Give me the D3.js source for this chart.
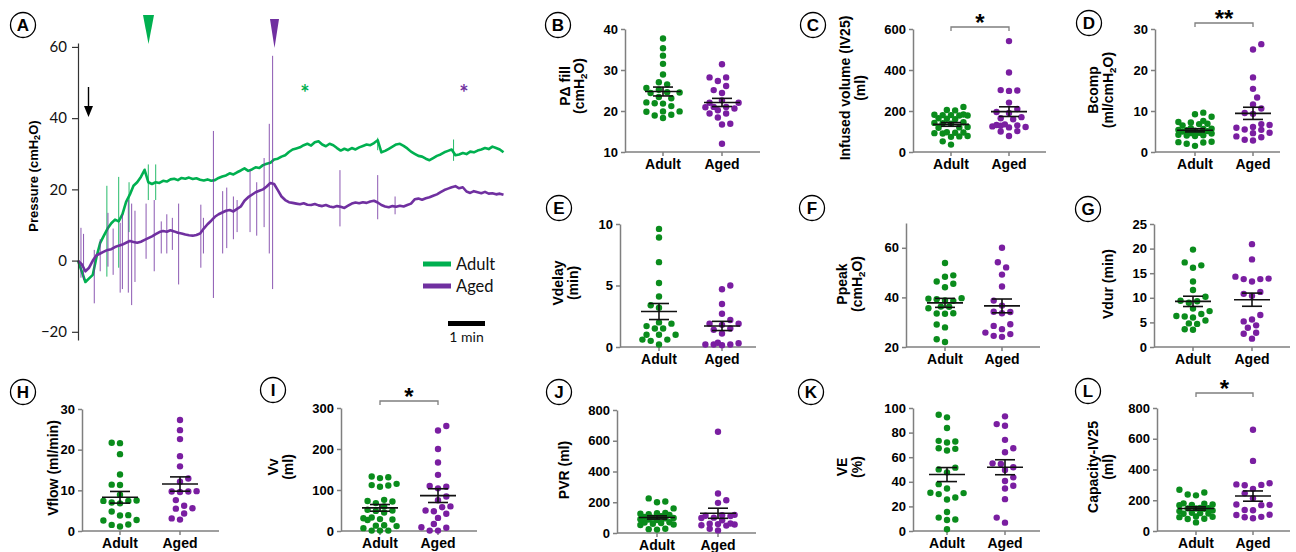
<!DOCTYPE html>
<html lang="en">
<head>
<meta charset="UTF-8">
<title>Adult vs Aged cystometry</title>
<script src="https://d3js.org/d3.v7.min.js"></script>
<style>
  body { margin: 0; background: #fff; }
  svg text { font-family: "Liberation Sans", Arial, sans-serif; }
  .trace text { font-family: Lato, "Liberation Sans", sans-serif; }
</style>
</head>
<body>
<div id="fig"></div>
<script>
// ---------- data ----------
const groups = ["Adult", "Aged"];

// panel A: pressure traces, one sample every 0.1 min (cmH2O)
const sampleStep = 0.1;
const adultTrace = [
  0, -3, -6, -5, -4, 1, 5, 7, 9, 10.5,
  11.5, 11, 13, 16.5, 18.5, 21, 22, 23.5, 25.5, 22,
  21.5, 22, 21.8, 22.4, 22.2, 22.8, 23, 22.6, 23.2, 23,
  23.3, 22.9, 23.1, 22.7, 22.5, 22.8, 22.4, 22.6, 23.2, 23.6,
  23.9, 24.5, 24.2, 24.8, 25.3, 25.9, 25.2, 25.6, 26.2, 26,
  26.8, 27.2, 27.5, 28.4, 28.6, 29.2, 29.6, 30.5, 31.2, 31.5,
  31.8, 32.4, 32.8, 32.3, 33.2, 33.5, 32.6, 32.1, 32.8, 32.4,
  31.6, 30.9, 31.4, 31, 31.6, 31.2, 31.8, 32.2, 32.6, 32.4,
  33, 33.8, 30.4, 30.8, 31.4, 32, 32.6, 32.8, 32.2, 31.5,
  30.6, 30, 29.4, 29.2, 28.6, 28.2, 28.8, 29.4, 29.8, 30.4,
  30.8, 31.2, 29.6, 29.8, 30.2, 29.9, 30.6, 30.4, 30.9, 31.2,
  31.6, 31.3, 32, 31.6, 31.2, 30.4
];
const agedTrace = [
  0, -1, -3, -2, 0, 1.5, 2, 2.5, 3, 3.2,
  3.8, 4.2, 4.5, 5, 5.5, 5.2, 5, 5.3, 5.8, 6.3,
  6.8, 7.4, 8, 8.3, 8.1, 8.5, 8.2, 7.8, 7.6, 7.3,
  7.1, 7, 7.2, 7.6, 9, 10.2, 11.2, 12.3, 13, 13.5,
  14, 14.2, 13.8, 14.5, 15.2, 16.8, 17.8, 18.5, 19.2, 19.6,
  20, 20.8, 21.8, 21.5, 19.8, 18, 17, 16.4, 16.2, 16,
  15.8, 16.1, 15.7, 15.6, 15.9, 15.5, 15.3, 15.6, 15.2, 15,
  15.3, 15.1, 14.8, 15.4, 16, 16.3, 16.1, 16.4, 16.2, 16.6,
  16.8, 16.3, 15.6, 15.2, 15, 15.3, 15.1, 15.4, 15.2, 15.6,
  16, 17.2, 17.4, 17.1, 17.5, 17.8, 18.2, 18.6, 19.2, 19.8,
  20.2, 20.6, 20.9, 20.3, 20.6, 19.4, 19, 19.5, 19.2, 18.9,
  19.3, 18.8, 18.9, 18.6, 18.8, 18.5
];
// artefact spikes: [time (min), low, high]
const adultSpikes = [[0.78, -4.5, 21], [1.1, -2, 23.5], [1.38, 8, 22], [1.9, 17, 27], [2.1, 17, 27], [8.1, 31, 34.5], [10.15, 28, 34]];
const agedSpikes = [
  [0.08, -4.8, 9.2], [0.15, -5.4, 7.5], [0.44, -12, 3], [0.6, -3, 6], [0.81, -1.7, 13.4], [0.95, -4, 9],
  [1.14, -9, 10.6], [1.2, -8, 13], [1.36, -9, 17], [1.45, -12.5, 16], [1.54, -6, 14], [1.84, 0.5, 16],
  [2.06, -3, 17], [2.25, 2, 11], [2.4, 2, 13], [2.55, 3, 12], [2.72, -6.7, 16], [3.32, -2, 15.7],
  [3.39, 2, 12], [3.66, -10.5, 36.4], [3.91, 2, 19.5], [4.02, 3.5, 20.5], [4.2, 6, 18], [4.3, 8, 17],
  [4.65, 8, 25.4], [4.83, 7, 22], [5.03, 9.4, 28.8], [5.17, 2, 38.4], [5.26, -8, 57.5],
  [7.08, 9.6, 25.4], [8.1, 11.6, 24], [8.57, 13, 18]
];
const pressureTicks = [60, 40, 20, 0, -20];

// scatter panels B-L
const pfillAdult = [37.7, 35.3, 33.5, 31.5, 28.9, 27.0, 26.5, 25.6, 25.2, 24.6, 24.5, 24.4, 23.4, 23.1, 22.1, 21.9, 21.8, 21.2, 19.9, 19.9, 19.8, 19.1, 18.9, 18.3];
const pfillAged = [31.4, 28.2, 28.2, 27.3, 26.1, 25.1, 24.4, 22.6, 22.0, 22.0, 21.0, 21.0, 20.9, 20.6, 20.2, 19.4, 19.4, 18.4, 16.9, 16.7, 12.0];
const ivAdult = [220, 205, 203, 183, 182, 180, 180, 178, 178, 165, 162, 160, 145, 142, 140, 138, 122, 120, 118, 96, 95, 94, 92, 90, 78, 76, 74, 52, 36];
const ivAged = [541, 388, 302, 300, 298, 241, 210, 195, 190, 170, 165, 160, 135, 132, 130, 128, 125, 122, 120, 102, 100, 78];
const bcompAdult = [9.6, 9.2, 8.6, 7.6, 7.3, 7.2, 6.9, 6.8, 6.5, 5.8, 5.7, 5.6, 5.4, 5.3, 5.2, 5.1, 5.0, 4.7, 4.6, 4.5, 4.2, 4.1, 4.0, 3.9, 2.5, 2.4, 2.3, 2.0, 1.5];
const bcompAged = [26.3, 25.0, 18.2, 15.4, 13.3, 11.6, 10.6, 9.5, 9.3, 6.8, 6.6, 6.1, 5.9, 5.5, 5.4, 4.7, 4.6, 3.8, 3.6, 3.0, 2.8];
const vdelayAdult = [9.6, 8.9, 6.9, 5.2, 4.1, 3.4, 3.2, 2.0, 1.9, 1.7, 1.5, 1.5, 1.0, 1.0, 1.0, 0.6, 0.6, 0.5, 0.2];
const vdelayAged = [5.0, 4.7, 3.5, 2.7, 2.2, 1.9, 1.9, 1.8, 1.5, 1.4, 1.1, 0.35, 0.3, 0.2, 0.2, 0.2, 0.15];
const ppeakAdult = [53.9, 48.9, 48.3, 46.4, 45.5, 44.1, 39.7, 39.5, 39.3, 38.8, 38.6, 36.3, 36.2, 35.6, 33.6, 33.5, 33.4, 29.1, 27.9, 23.1, 22.0];
const ppeakAged = [60.0, 54.2, 52.1, 49.2, 44.4, 38.7, 36.7, 34.2, 34.1, 33.6, 29.2, 28.5, 27.2, 25.8, 25.2, 24.5, 24.1];
const vdurAdult = [19.8, 17.2, 16.6, 16.1, 13.3, 11.6, 10.2, 9.4, 9.3, 9.0, 7.8, 7.3, 6.7, 6.3, 6.2, 6.0, 5.4, 4.8, 4.7, 3.6, 3.5];
const vdurAged = [20.9, 17.8, 14.3, 13.9, 13.8, 13.8, 13.3, 11.2, 10.8, 10.4, 6.5, 5.6, 5.2, 4.4, 3.9, 2.9, 2.7, 1.7];
const vflowAdult = [21.7, 21.6, 18.9, 13.9, 11.4, 11.3, 8.9, 7.5, 7.4, 7.4, 7.0, 6.8, 4.8, 3.9, 3.8, 2.7, 2.6, 1.6, 1.5, 1.1];
const vflowAged = [27.3, 24.8, 22.6, 18.4, 15.9, 12.9, 12.1, 9.8, 9.7, 9.7, 9.6, 7.6, 6.2, 5.6, 5.5, 4.3, 3.1, 2.8];
const vvAdult = [133, 131, 129, 115, 112, 111, 108, 76, 73, 72, 68, 60, 52, 50, 49, 45, 33, 31, 29, 28, 27, 14, 13, 12, 7, 1, 1, 1];
const vvAged = [256, 245, 200, 167, 137, 110, 108, 104, 84, 75, 60, 58, 50, 48, 42, 32, 17, 9, 8, 1, 1];
const pvrAdult = [225, 205, 200, 160, 130, 128, 125, 122, 118, 110, 105, 100, 98, 95, 90, 88, 85, 70, 68, 65, 60, 55, 52, 28, 25, 22];
const pvrAged = [659, 257, 213, 196, 118, 115, 112, 110, 100, 98, 83, 62, 60, 58, 55, 50, 48, 28, 17];
const veAdult = [94.5, 92.4, 83.7, 73.3, 72.8, 72.0, 67.3, 66.8, 65.4, 51.5, 50.1, 47.7, 38.1, 34.6, 31.1, 30.8, 30.0, 27.2, 25.6, 15.5, 10.9, 9.3, 9.0, 1.4];
const veAged = [93.2, 86.9, 85.6, 74.1, 67.3, 64.0, 55.0, 54.5, 51.8, 49.6, 43.6, 40.6, 36.8, 34.6, 25.9, 10.9, 6.8];
const capAdult = [268, 250, 237, 232, 180, 178, 172, 170, 168, 150, 148, 147, 146, 145, 133, 130, 118, 116, 114, 112, 95, 92, 90, 80, 78, 56];
const capAged = [659, 456, 311, 303, 300, 298, 274, 246, 213, 172, 170, 168, 137, 135, 106, 104, 92, 89, 83];

// ---------- styles ----------
const traceGreen = "#00b050", tracePurple = "#7030a0";
const dotGreen = "#0a8c1c", dotPurple = "#7a1ea1";
const axisGray = "#7f7f7f";

const svg = d3.select("#fig").append("svg").attr("width", 1296).attr("height", 552);

// helper: text with subscript parts, e.g. ["(cmH", ["2"], "O)"]
function rich(sel, parts, fs) {
  let reset = false;
  parts.forEach(p => {
    if (Array.isArray(p)) {
      sel.append("tspan").attr("font-size", fs * 0.7).attr("dy", fs * 0.28).text(p[0]);
      reset = true;
    } else {
      const t = sel.append("tspan").text(p);
      if (reset) { t.attr("dy", -fs * 0.28); reset = false; }
    }
  });
}

function circleLabel(x, y, letter) {
  const g = svg.append("g").attr("transform", `translate(${x},${y})`);
  g.append("circle").attr("r", 12.5).attr("fill", "#fff").attr("stroke", "#000").attr("stroke-width", 1.3);
  g.append("text").attr("text-anchor", "middle").attr("dy", 6).attr("font-size", 17)
    .attr("font-weight", "bold").text(letter);
}

// ---------- panel A ----------
const A = svg.append("g").attr("class", "trace");
const xT = d3.scaleLinear().domain([0, 11.5]).range([78, 503.5]);
const yP = d3.scaleLinear().domain([-22.3, 61.1]).range([340, 43]);

const line = d3.line().x((d, i) => xT(i * sampleStep)).y(d => yP(d));

A.append("g").selectAll("line").data(adultSpikes).join("line")
  .attr("x1", d => xT(d[0])).attr("x2", d => xT(d[0]))
  .attr("y1", d => yP(d[1])).attr("y2", d => yP(d[2]))
  .attr("stroke", traceGreen).attr("stroke-width", 1).attr("opacity", 0.85);
A.append("path").datum(adultTrace).attr("d", line).attr("fill", "none")
  .attr("stroke", traceGreen).attr("stroke-width", 2.6).attr("stroke-linejoin", "round");
A.append("path").datum(agedTrace).attr("d", line).attr("fill", "none")
  .attr("stroke", tracePurple).attr("stroke-width", 2.6).attr("stroke-linejoin", "round");
A.append("g").selectAll("line").data(agedSpikes).join("line")
  .attr("x1", d => xT(d[0])).attr("x2", d => xT(d[0]))
  .attr("y1", d => yP(d[1])).attr("y2", d => yP(d[2]))
  .attr("stroke", tracePurple).attr("stroke-width", 1).attr("opacity", 0.8);

const ay = A.append("g").attr("transform", "translate(78,0)")
  .call(d3.axisLeft(yP).tickValues(pressureTicks).tickSize(6).tickSizeOuter(0).tickPadding(5));
ay.select(".domain").attr("stroke", "#333").attr("stroke-width", 1.2);
ay.selectAll(".tick line").attr("stroke", "#333").attr("stroke-width", 1.2);
ay.selectAll(".tick text").attr("font-size", 15).attr("fill", "#111")
  .style("font-family", "Lato, sans-serif");

const aTitle = A.append("text").attr("transform", "translate(33,176) rotate(-90)")
  .attr("text-anchor", "middle").attr("dominant-baseline", "central")
  .attr("font-size", 13).attr("font-weight", "bold")
  .style("font-family", "'Liberation Sans', Arial, sans-serif");
rich(aTitle, ["Pressure (cmH", ["2"], "O)"], 13);

// markers
A.append("path").attr("d", "M143,15 L154,15 L148.5,44 Z").attr("fill", traceGreen);
A.append("path").attr("d", "M270,19 L279,19 L274.5,48 Z").attr("fill", tracePurple);
A.append("line").attr("x1", 88.5).attr("x2", 88.5).attr("y1", 87).attr("y2", 108)
  .attr("stroke", "#000").attr("stroke-width", 1.4);
A.append("path").attr("d", "M84,106 L93,106 L88.5,117 Z").attr("fill", "#000");
A.append("text").attr("x", 305).attr("y", 101).attr("text-anchor", "middle")
  .attr("font-size", 22).attr("font-weight", "bold").attr("fill", traceGreen).text("*");
A.append("text").attr("x", 464).attr("y", 101).attr("text-anchor", "middle")
  .attr("font-size", 22).attr("font-weight", "bold").attr("fill", tracePurple).text("*");

// legend
[[groups[0], traceGreen, 264], [groups[1], tracePurple, 286]].forEach(([name, c, y]) => {
  A.append("line").attr("x1", 423).attr("x2", 451).attr("y1", y).attr("y2", y)
    .attr("stroke", c).attr("stroke-width", 5);
  A.append("text").attr("x", 456).attr("y", y + 6).attr("font-size", 16.5).attr("fill", "#111").text(name);
});
// scale bar
A.append("line").attr("x1", xT(10)).attr("x2", xT(11)).attr("y1", 323.5).attr("y2", 323.5)
  .attr("stroke", "#000").attr("stroke-width", 5);
A.append("text").attr("x", (xT(10) + xT(11)) / 2).attr("y", 342).attr("text-anchor", "middle")
  .attr("font-size", 14).attr("fill", "#111").text("1 min");

circleLabel(23, 25, "A");

// ---------- scatter panels ----------
const panels = [
  { id: "B", a: pfillAdult, b: pfillAged, dom: [10, 40], ticks: [10, 20, 30, 40], ax: 625, top: 29, bot: 152, end: 760, gx: [663, 722],
    title: [["P\u0394 fill"], ["(cmH", ["2"], "O)"]], tx: [565, 579], ty: 86, c: [558, 25] },
  { id: "C", a: ivAdult, b: ivAged, dom: [0, 600], ticks: [0, 200, 400, 600], ax: 913, top: 29, bot: 152, end: 1046, gx: [951, 1009],
    title: [["Infused volume (IV25)"], ["(ml)"]], tx: [845, 860], ty: 88, c: [813, 25], sig: { y: 27, star: "*", sy: 18 } },
  { id: "D", a: bcompAdult, b: bcompAged, dom: [0, 30], ticks: [0, 10, 20, 30], ax: 1155, top: 29, bot: 152, end: 1280, gx: [1195, 1253],
    title: [["Bcomp"], ["(ml/cmH", ["2"], "O)"]], tx: [1093, 1108], ty: 90, c: [1089, 23], sig: { y: 23, star: "**", sy: 14 } },
  { id: "E", a: vdelayAdult, b: vdelayAged, dom: [0, 10], ticks: [0, 5, 10], ax: 620, top: 224, bot: 347, end: 756, gx: [659, 722],
    title: [["Vdelay"], ["(min)"]], tx: [558, 573], ty: 283, c: [559, 208] },
  { id: "F", a: ppeakAdult, b: ppeakAged, dom: [20, 70], ticks: [20, 40, 60], ax: 906, top: 223, bot: 347, end: 1040, gx: [945, 1002],
    title: [["Ppeak"], ["(cmH", ["2"], "O)"]], tx: [842, 857], ty: 284, c: [812, 208] },
  { id: "G", a: vdurAdult, b: vdurAged, dom: [0, 25], ticks: [0, 5, 10, 15, 20, 25], ax: 1154, top: 224, bot: 347, end: 1290, gx: [1193, 1252],
    title: [["Vdur (min)"]], tx: [1108], ty: 284, c: [1088, 209] },
  { id: "H", a: vflowAdult, b: vflowAged, dom: [0, 30], ticks: [0, 10, 20, 30], ax: 82, top: 409, bot: 531, end: 219, gx: [120, 180],
    title: [["Vflow (ml/min)"]], tx: [53], ty: 468, c: [23, 392] },
  { id: "I", a: vvAdult, b: vvAged, dom: [0, 300], ticks: [0, 100, 200, 300], ax: 341, top: 408, bot: 531, end: 477, gx: [380, 438],
    title: [["Vv"], ["(ml)"]], tx: [273, 288], ty: 467, c: [273, 390], sig: { y: 401, star: "*", sy: 392 } },
  { id: "J", a: pvrAdult, b: pvrAged, dom: [0, 800], ticks: [0, 200, 400, 600, 800], ax: 617, top: 410, bot: 533, end: 756, gx: [657, 718],
    title: [["PVR (ml)"]], tx: [564], ty: 470, c: [559, 392] },
  { id: "K", a: veAdult, b: veAged, dom: [0, 100], ticks: [0, 20, 40, 60, 80, 100], ax: 913, top: 408, bot: 531, end: 1040, gx: [947, 1005],
    title: [["VE"], ["(%)"]], tx: [842, 857], ty: 467, c: [811, 392] },
  { id: "L", a: capAdult, b: capAged, dom: [0, 800], ticks: [0, 200, 400, 600, 800], ax: 1157, top: 408, bot: 531, end: 1290, gx: [1196, 1253],
    title: [["Capacity-IV25"], ["(ml)"]], tx: [1093, 1108], ty: 467, c: [1088, 391], sig: { y: 393, star: "*", sy: 384 } }
];

// compact beeswarm: sideways offsets capped, overlap allowed when the column is full
function swarm(vals, cx, y) {
  const minDist = 7.2, step = 4.15, maxOff = 19;
  const offs = [0];
  for (let k = 1; k * step <= maxOff; k++) offs.push(k * step, -k * step);
  const pts = vals.map(v => ({ v, y: y(v) })).sort((p, q) => q.y - p.y);
  const placed = [];
  pts.forEach((p, i) => {
    let best = null, bestD = -1;
    for (const o0 of offs) {
      const o = i % 2 ? -o0 : o0;
      const d = placed.length ? d3.min(placed, q => Math.hypot(q.x - (cx + o), q.y - p.y)) : Infinity;
      if (d >= minDist) { best = o; break; }
      if (d > bestD) { bestD = d; best = o; }
    }
    p.x = cx + best;
    placed.push(p);
  });
  return placed;
}

panels.forEach(p => {
  const g = svg.append("g");
  const y = d3.scaleLinear().domain(p.dom).range([p.bot, p.top]);
  const x = d3.scaleOrdinal().domain(groups).range(p.gx);

  const yAx = g.append("g").attr("transform", `translate(${p.ax},0)`)
    .call(d3.axisLeft(y).tickValues(p.ticks).tickSize(4).tickSizeOuter(0).tickPadding(3));
  yAx.select(".domain").attr("stroke", axisGray).attr("stroke-width", 1.5);
  yAx.selectAll(".tick line").attr("stroke", axisGray).attr("stroke-width", 1.5);
  yAx.selectAll(".tick text").attr("font-size", 13).attr("font-weight", "bold").attr("fill", "#000");

  g.append("line").attr("x1", p.ax).attr("x2", p.end).attr("y1", p.bot).attr("y2", p.bot)
    .attr("stroke", axisGray).attr("stroke-width", 1.5);
  groups.forEach(gr => {
    g.append("line").attr("x1", x(gr)).attr("x2", x(gr)).attr("y1", p.bot).attr("y2", p.bot + 4)
      .attr("stroke", axisGray).attr("stroke-width", 1.5);
    g.append("text").attr("x", x(gr)).attr("y", p.bot + 17).attr("text-anchor", "middle")
      .attr("font-size", 14).attr("font-weight", "bold").text(gr);
  });

  // dots
  [[p.a, groups[0], dotGreen], [p.b, groups[1], dotPurple]].forEach(([vals, gr, col]) => {
    g.append("g").selectAll("circle").data(swarm(vals, x(gr), y)).join("circle")
      .attr("cx", d => d.x).attr("cy", d => d.y).attr("r", 3.2).attr("fill", col);
    const m = d3.mean(vals), se = d3.deviation(vals) / Math.sqrt(vals.length);
    const cx = x(gr);
    const s = g.append("g").attr("stroke", "#111").attr("stroke-width", 1.6);
    s.append("line").attr("x1", cx - 18).attr("x2", cx + 18).attr("y1", y(m)).attr("y2", y(m));
    s.append("line").attr("x1", cx).attr("x2", cx).attr("y1", y(m - se)).attr("y2", y(m + se));
    s.append("line").attr("x1", cx - 10).attr("x2", cx + 10).attr("y1", y(m - se)).attr("y2", y(m - se));
    s.append("line").attr("x1", cx - 10).attr("x2", cx + 10).attr("y1", y(m + se)).attr("y2", y(m + se));
  });

  // y title
  p.title.forEach((parts, i) => {
    const t = g.append("text").attr("transform", `translate(${p.tx[i]},${p.ty}) rotate(-90)`)
      .attr("text-anchor", "middle").attr("dominant-baseline", "central")
      .attr("font-size", 14).attr("font-weight", "bold");
    rich(t, parts, 14);
  });

  // significance bracket
  if (p.sig) {
    const x0 = x(groups[0]), x1 = x(groups[1]);
    g.append("path").attr("d", `M${x0},${p.sig.y + 4}V${p.sig.y}H${x1}V${p.sig.y + 4}`)
      .attr("fill", "none").attr("stroke", axisGray).attr("stroke-width", 1.3);
    g.append("text").attr("x", (x0 + x1) / 2).attr("y", p.sig.sy + 13).attr("text-anchor", "middle")
      .attr("font-size", 24).attr("font-weight", "bold").text(p.sig.star);
  }

  circleLabel(p.c[0], p.c[1], p.id);
});
</script>
</body>
</html>
